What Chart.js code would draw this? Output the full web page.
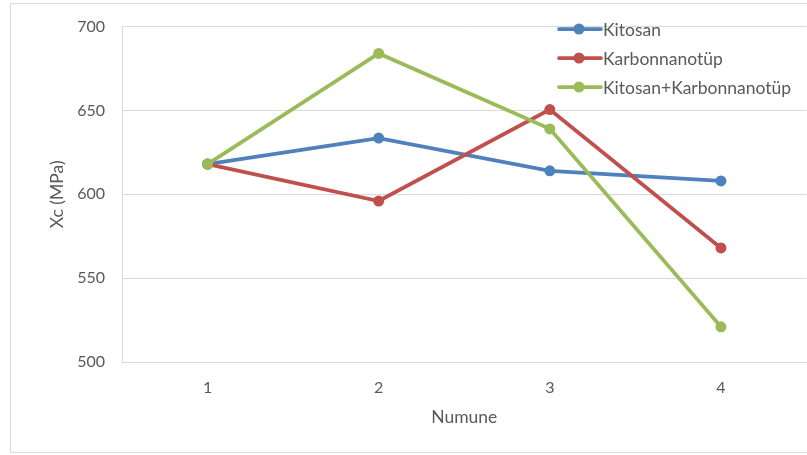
<!DOCTYPE html>
<html>
<head>
<meta charset="utf-8">
<script src="https://cdn.jsdelivr.net/npm/chart.js@4"></script>
<style>
  html, body { margin: 0; padding: 0; background: #fff; overflow: hidden; }
  #wrap { position: relative; width: 812px; height: 455px; }
</style>
</head>
<body>
<div id="wrap"><canvas id="c"></canvas></div>
<script>
// Sample numbers on the x axis
const categories = ['1', '2', '3', '4'];

// Compressive strength Xc (MPa) per sample
const kitosan = [618, 633.5, 614, 608];
const karbonnanotup = [618, 596, 650.5, 568];
const kitosanKarbon = [618, 684, 639, 521];

const seriesNames = ['Kitosan', 'Karbonnanotüp', 'Kitosan+Karbonnanotüp'];
const seriesColors = ['#4F81BD', '#C0504D', '#9BBB59'];

const FONT = 'Lato, "Open Sans", sans-serif';
const TEXT = '#595959';

// Outer chart frame
const framePlugin = {
  id: 'frame',
  beforeDraw(chart) {
    const ctx = chart.ctx;
    ctx.save();
    ctx.fillStyle = '#fff';
    ctx.fillRect(0, 0, chart.width, chart.height);
    ctx.strokeStyle = '#d9d9d9';
    ctx.lineWidth = 1;
    ctx.strokeRect(10.5, 3.5, 820, 449);
    ctx.restore();
  }
};

// Legend drawn inside the plot, top right, line + marker style
const insideLegend = {
  id: 'insideLegend',
  afterDraw(chart) {
    const ctx = chart.ctx;
    const rows = [29, 58, 87];
    ctx.save();
    chart.data.datasets.forEach((ds, i) => {
      const y = rows[i];
      ctx.strokeStyle = ds.borderColor;
      ctx.lineWidth = 3.75;
      ctx.lineCap = 'round';
      ctx.beginPath();
      ctx.moveTo(559, y);
      ctx.lineTo(601, y);
      ctx.stroke();
      ctx.fillStyle = ds.borderColor;
      ctx.beginPath();
      ctx.arc(579, y, 5.5, 0, Math.PI * 2);
      ctx.fill();
      ctx.fillStyle = TEXT;
      ctx.font = '17.5px ' + FONT;
      ctx.textBaseline = 'middle';
      ctx.textAlign = 'left';
      ctx.fillText(ds.label, 603, y + 1);
    });
    ctx.restore();
  }
};

const seriesData = [kitosan, karbonnanotup, kitosanKarbon];
const datasets = seriesData.map((vals, i) => ({
  label: seriesNames[i],
  data: vals,
  borderColor: seriesColors[i],
  backgroundColor: seriesColors[i],
  borderWidth: 3.75,
  pointRadius: 5.5,
  pointHoverRadius: 5.5,
  pointBorderWidth: 0,
  tension: 0,
  order: 3 - i
}));

new Chart(document.getElementById('c'), {
  type: 'line',
  data: { labels: categories, datasets },
  plugins: [framePlugin, insideLegend],
  options: {
    responsive: true,
    maintainAspectRatio: false,
    animation: false,
    events: [],
    layout: { padding: { top: 25, left: 0, right: 0, bottom: 0 } },
    plugins: {
      legend: { display: false },
      tooltip: { enabled: false }
    },
    scales: {
      x: {
        offset: true,
        grid: { display: false, drawTicks: false },
        border: { display: true, color: '#d9d9d9', width: 1 },
        ticks: { color: TEXT, font: { family: FONT, size: 16 }, padding: 16 },
        title: {
          display: true, text: 'Numune', color: TEXT,
          font: { family: FONT, size: 17.5 }, padding: { top: 0, bottom: 27 }
        },
        afterFit(scale) { scale.height = 93; }
      },
      y: {
        min: 500, max: 700,
        ticks: { stepSize: 50, color: TEXT, font: { family: FONT, size: 16 }, padding: 17 },
        grid: { color: '#d9d9d9', drawTicks: false },
        border: { display: true, color: '#d9d9d9', width: 1 },
        title: {
          display: true, text: 'Xc (MPa)', color: TEXT,
          font: { family: FONT, size: 17.5 }, padding: { top: 47, bottom: 0 }
        },
        afterFit(scale) { scale.width = 122; }
      }
    }
  }
});
</script>
</body>
</html>
